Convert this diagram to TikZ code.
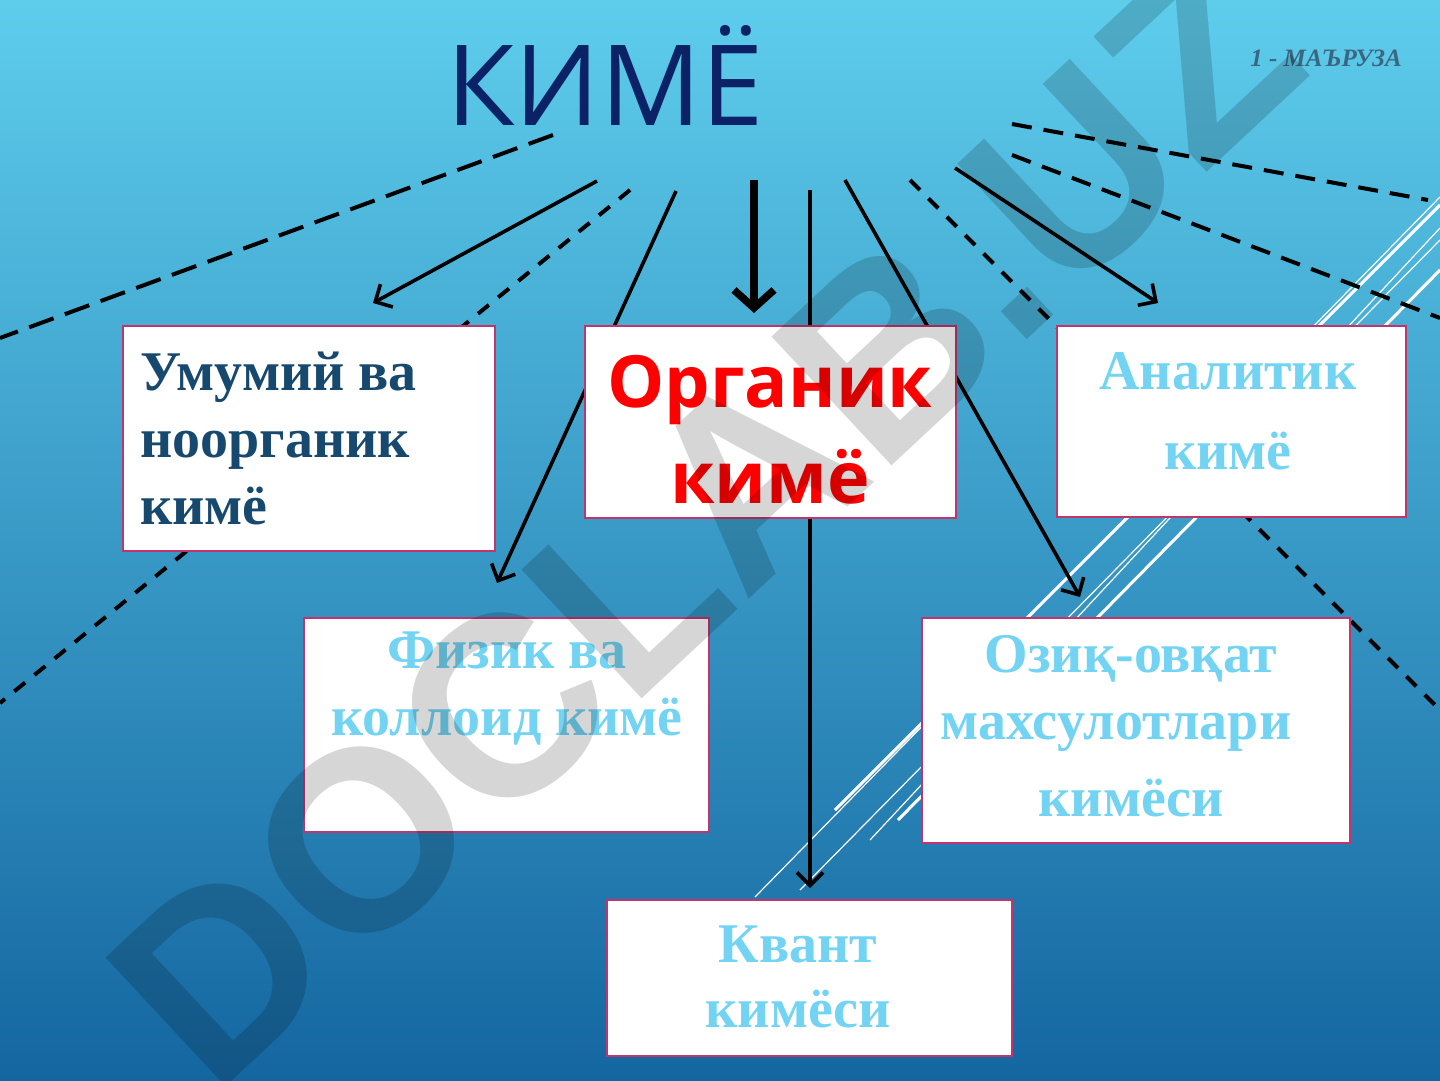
\documentclass[tikz,border=0pt]{standalone}
\usepackage{fontspec}
\setmainfont{Liberation Serif}
\newfontfamily\opensans{Open Sans}
\newfontfamily\wmfont{Liberation Sans}
\usetikzlibrary{arrows.meta,positioning}
\definecolor{bgtop}{HTML}{5ECDEC}
\definecolor{bgmid}{HTML}{3A9ACB}
\definecolor{bgbot}{HTML}{1466A0}
\definecolor{titleblue}{HTML}{0C2266}
\definecolor{boxedge}{HTML}{C0356E}
\definecolor{darktext}{HTML}{17496F}
\definecolor{lighttext}{HTML}{72D4F2}
\definecolor{lecture}{HTML}{3A6680}

\begin{document}
\begin{tikzpicture}[x=1pt,y=-1pt,
    box/.style={draw=boxedge, line width=1.8pt, fill=white, rectangle, inner sep=0pt},
    serif/.style={font=\fontsize{56}{67}\selectfont\bfseries, inner sep=0pt, align=center, anchor=north},
    arr/.style={-{Straight Barb[length=13pt,width=26pt]}, line width=3.6pt},
    bigarr/.style={-{Straight Barb[length=18pt,width=40pt]}, line width=7.5pt},
    dashlong/.style={line width=4pt, dash pattern=on 26pt off 12pt},
    dashshort/.style={line width=4pt, dash pattern=on 14pt off 12pt},
    deco/.style={white, line width=1.2pt}
  ]
  \useasboundingbox (0,0) rectangle (1440,1080);

  % Background
  \shade[top color=bgtop, middle color=bgmid, bottom color=bgbot] (0,0) rectangle (1440,1080);
  \draw[deco] (755,897) -- (1440,197);
  \draw[deco] (800,890) -- (1440,240);
  \draw[deco, line width=3pt] (835,810) -- (1440,205);
  \draw[deco, line width=3pt] (898,820) -- (1440,270);
  \draw[deco] (870,840) -- (1440,228);

  % Start and end points
  \coordinate (s1) at (553,135);  \coordinate (e1) at (0,338);
  \coordinate (s2) at (597,181);  \coordinate (e2) at (373,303);
  \coordinate (s3) at (630,190);  \coordinate (e3) at (0,703);
  \coordinate (s4) at (676,191);  \coordinate (e4) at (497,583);
  \coordinate (s5) at (754,180);  \coordinate (e5) at (754,313);
  \coordinate (s6) at (810,190);  \coordinate (e6) at (810,888);
  \coordinate (s7) at (845,180);  \coordinate (e7) at (1080,597);
  \coordinate (s8) at (910,180);  \coordinate (e8) at (1440,710);
  \coordinate (s9) at (955,168);  \coordinate (e9) at (1158,303);
  \coordinate (s10) at (1012,124); \coordinate (e10) at (1428,200);
  \coordinate (s11) at (1012,155); \coordinate (e11) at (1440,318);

  % Connectors
  \draw[dashlong] (s1) -- (e1);
  \draw[arr] (s2) -- (e2);
  \draw[dashshort] (s3) -- (e3);
  \draw[arr] (s4) -- (e4);
  \draw[bigarr] (s5) -- (e5);
  \draw[arr] (s6) -- (e6);
  \draw[arr] (s7) -- (e7);
  \draw[dashshort] (s8) -- (e8);
  \draw[arr] (s9) -- (e9);
  \draw[dashlong, dash pattern=on 20pt off 12pt] (s10) -- (e10);
  \draw[dashlong, dash pattern=on 20pt off 12pt] (s11) -- (e11);

  % Boxes
  \node[box, minimum width=372, minimum height=225] (umumiy) at (309,438.5) {};
  \node[box, minimum width=371, minimum height=192] (organik) at (770.5,422) {};
  \node[box, minimum width=349, minimum height=191] (analitik) at (1231.5,421.5) {};
  \node[box, minimum width=405, minimum height=214] (fizik) at (506.5,725) {};
  \node[box, minimum width=428, minimum height=225] (ozik) at (1136,730.5) {};
  \node[box, minimum width=405, minimum height=156] (kvant) at (809.5,978) {};

  % Texts
  \node[font=\opensans\fontsize{112}{112}\selectfont, text=titleblue, anchor=base, inner sep=0pt] (title) at (605,125) {КИМЁ};
  \node[font=\fontsize{25}{25}\selectfont\bfseries\itshape, text=lecture, anchor=base east, inner sep=0pt] (lecture) at (1402,66) {1 - МАЪРУЗА};
  \node[serif, text=darktext, align=left, anchor=north west] (umumiy-t) at (140,352) {Умумий ва\\ноорганик\\кимё};
  \node[font=\opensans\bfseries\fontsize{72}{96}\selectfont, text=red, align=center, anchor=north, inner sep=0pt] (organik-t) at (770,355) {Органик\\кимё};
  \node[serif, text=lighttext] (analitik-t) at (1228,352) {Аналитик\\[13pt]кимё};
  \node[serif, text=lighttext] (fizik-t) at (507,632) {Физик ва\\коллоид кимё};
  \node[serif, text=lighttext] (ozik-t) at (1131,635) {Озиқ-овқат\\махсулотлари\hspace*{30pt}\mbox{}\\[10pt]кимёси};
  \node[serif, text=lighttext] (kvant-t) at (798,926) {Квант\\[-2pt]кимёси};

  % Watermark
  \node[rotate=43, text=black, opacity=0.16, inner sep=0pt, font=\wmfont\bfseries\fontsize{256}{256}\selectfont] (wm) at (705,520) {DOCLAB.UZ};
\end{tikzpicture}
\end{document}
